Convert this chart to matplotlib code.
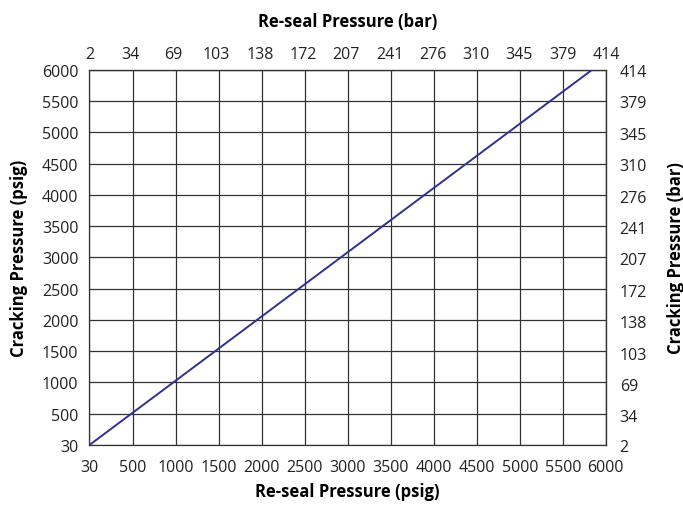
import numpy as np
import matplotlib.pyplot as plt

plt.rcParams['font.family'] = ['Open Sans', 'DejaVu Sans']

# axis tick values (evenly spaced on the chart)
psig_ticks = [30, 500, 1000, 1500, 2000, 2500, 3000, 3500, 4000, 4500, 5000, 5500, 6000]
bar_ticks = ['2', '34', '69', '103', '138', '172', '207', '241', '276', '310', '345', '379', '414']

# line end points (psig)
reseal_psig = [30, 5840]
cracking_psig = [30, 6000]

idx = np.arange(len(psig_ticks))


def fwd(v):
    return np.interp(v, psig_ticks, idx)


def inv(v):
    return np.interp(v, idx, psig_ticks)


fig = plt.figure(figsize=(6.83, 5.06), dpi=100)
ax = fig.add_axes([0.131, 0.1186, 0.756, 0.7414])
ax.set_xscale('function', functions=(fwd, inv))
ax.set_yscale('function', functions=(fwd, inv))
ax.set_xlim(30, 6000)
ax.set_ylim(30, 6000)

ax.plot(reseal_psig, cracking_psig, color='#2e3192', lw=1.4, zorder=3)

ax.set_xticks(psig_ticks)
ax.set_yticks(psig_ticks)
ax.set_xticklabels([str(t) for t in psig_ticks])
ax.set_yticklabels([str(t) for t in psig_ticks])
ax.grid(True, color='#333333', lw=0.9)
ax.tick_params(axis='x', length=0, labelsize=11.5, pad=10, colors='#222222')
ax.tick_params(axis='y', length=0, labelsize=11.5, pad=8, colors='#222222')
for s in ax.spines.values():
    s.set_color('#333333')
    s.set_linewidth(0.9)

ax.set_xlabel('Re-seal Pressure (psig)', fontsize=12, fontweight='bold', labelpad=5)
ax.set_ylabel('Cracking Pressure (psig)', fontsize=12, fontweight='bold', labelpad=10)

top = ax.secondary_xaxis('top')
top.set_ticks(psig_ticks)
top.set_xticklabels(bar_ticks)
top.tick_params(length=0, labelsize=11.5, pad=6, colors='#222222')
top.set_xlabel('Re-seal Pressure (bar)', fontsize=12, fontweight='bold', labelpad=14)

right = ax.secondary_yaxis('right')
right.set_ticks(psig_ticks)
right.set_yticklabels(bar_ticks)
right.tick_params(length=0, labelsize=11.5, pad=10, colors='#222222')
right.set_ylabel('Cracking Pressure (bar)', fontsize=12, fontweight='bold', labelpad=14)

fig.savefig('out.png', dpi=100)
